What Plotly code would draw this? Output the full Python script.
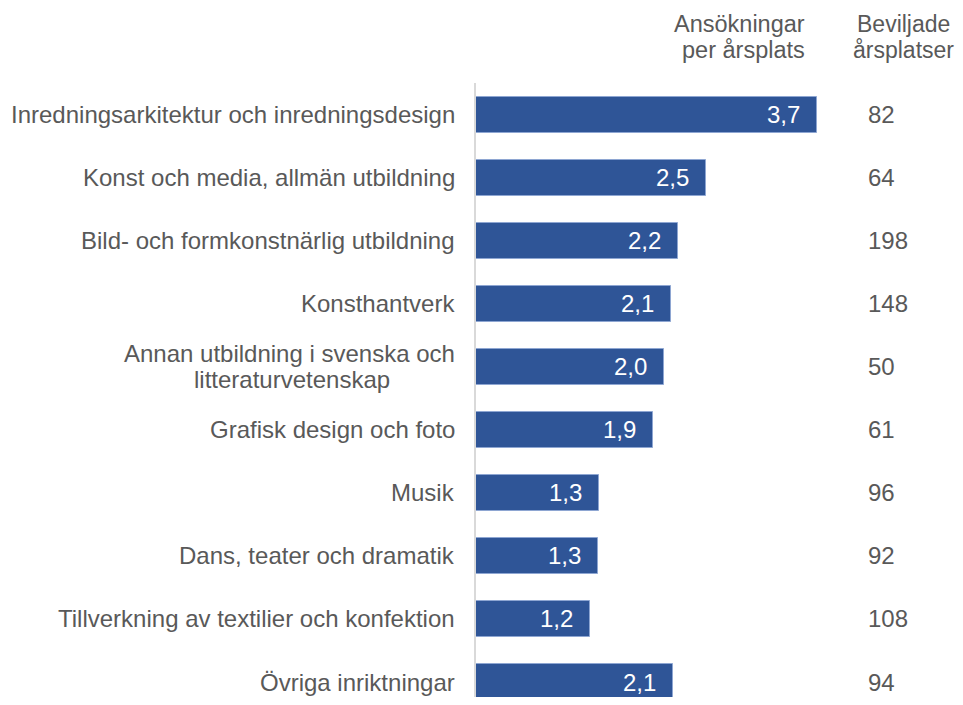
import plotly.graph_objects as go

# data
categories = [
    "Inredningsarkitektur och inredningsdesign",
    "Konst och media, allmän utbildning",
    "Bild- och formkonstnärlig utbildning",
    "Konsthantverk",
    "Annan utbildning i svenska och<br>litteraturvetenskap",
    "Grafisk design och foto",
    "Musik",
    "Dans, teater och dramatik",
    "Tillverkning av textilier och konfektion",
    "Övriga inriktningar",
]
applications_per_place = [3.70, 2.49, 2.19, 2.12, 2.04, 1.92, 1.33, 1.32, 1.24, 2.14]
approved_places = [82, 64, 198, 148, 50, 61, 96, 92, 108, 94]
header_ratio = ["Ansökningar", "per årsplats"]
header_places = ["Beviljade", "årsplatser"]

FONT = "Liberation Sans, Arial, sans-serif"
GREY = "#595959"
BLUE = "#2f5597"
SIZE = 24

# the page body has an 8px margin on every side; keep the figure inside the window
OFF = 8
SCREEN_W, SCREEN_H = 963, 705
W, H = SCREEN_W - 2 * OFF, SCREEN_H - 2 * OFF
FIG_RIGHT, FIG_BOTTOM = OFF + W, OFF + H   # screen pixels
L, T = 476, 82.5                           # plot area edges in screen pixels
PLOT_H = FIG_BOTTOM - T
PLOT_W = FIG_RIGHT - L
BAND = 63.1                                # pixels per category
UNIT = 92.2                                # pixels per unit of the value axis
LAST_CENTER = 682                          # screen row of the last bar


def py(ypix):
    # screen pixel row -> paper y
    return (FIG_BOTTOM - ypix) / PLOT_H


def px(xpix):
    return (xpix - L) / PLOT_W


fig = go.Figure()
fig.add_trace(
    go.Bar(
        x=applications_per_place,
        y=list(range(len(categories))),
        orientation="h",
        width=0.57,
        marker=dict(color=BLUE, line=dict(color="#8ea6d2", width=1)),
        hoverinfo="skip",
    )
)

annotations = []
for i, (cat, val, n) in enumerate(zip(categories, applications_per_place, approved_places)):
    # value inside bar
    annotations.append(dict(
        x=val, y=i, xref="x", yref="y", xanchor="right", yanchor="middle",
        xshift=-15, text=f"{val:.1f}".replace(".", ","), showarrow=False,
        font=dict(family=FONT, size=SIZE, color="white"),
    ))
    # approved places column
    annotations.append(dict(
        x=px(866), y=i, xref="paper", yref="y", xanchor="left", yanchor="middle",
        text=str(n), showarrow=False,
        font=dict(family=FONT, size=SIZE, color=GREY),
    ))
    # category label (tight line spacing like the original)
    lines = cat.split("<br>")
    if len(lines) == 1:
        annotations.append(dict(
            x=0, y=i, xref="paper", yref="y", xanchor="right", yanchor="middle",
            xshift=-19, text=cat, showarrow=False,
            font=dict(family=FONT, size=SIZE, color=GREY),
        ))
    else:
        annotations.append(dict(
            x=0, y=i, xref="paper", yref="y", xanchor="right", yanchor="middle",
            xshift=-19, yshift=13, text=lines[0], showarrow=False,
            font=dict(family=FONT, size=SIZE, color=GREY),
        ))
        annotations.append(dict(
            x=0, y=i, xref="paper", yref="y", xanchor="center", yanchor="middle",
            xshift=-19 - 165, yshift=-13, text=lines[1], showarrow=False,
            font=dict(family=FONT, size=SIZE, color=GREY),
        ))

for k, line in enumerate(header_ratio):
    annotations.append(dict(
        x=px(807), y=py(23 + 26 * k), xref="paper", yref="paper",
        xanchor="right", yanchor="middle", text=line, showarrow=False,
        font=dict(family=FONT, size=23.5, color=GREY),
    ))
for k, line in enumerate(header_places):
    annotations.append(dict(
        x=px(903), y=py(23 + 26 * k), xref="paper", yref="paper",
        xanchor="center", yanchor="middle", text=line, showarrow=False,
        font=dict(family=FONT, size=23, color=GREY),
    ))

fig.update_layout(
    width=W,
    height=H,
    margin=dict(l=L - OFF, r=0, t=T - OFF, b=0, pad=0),
    paper_bgcolor="white",
    plot_bgcolor="white",
    showlegend=False,
    bargap=0,
    annotations=annotations,
    xaxis=dict(
        range=[0, PLOT_W / UNIT],
        showgrid=False, zeroline=False, showticklabels=False,
        showline=False, fixedrange=True,
    ),
    yaxis=dict(
        range=[len(categories) - 1 + (FIG_BOTTOM - LAST_CENTER) / BAND, -0.5],
        showgrid=False, zeroline=False, showticklabels=False,
        showline=True, linecolor="#d9d9d9", linewidth=2, ticks="",
        fixedrange=True,
    ),
)

fig.write_html("out.html")
